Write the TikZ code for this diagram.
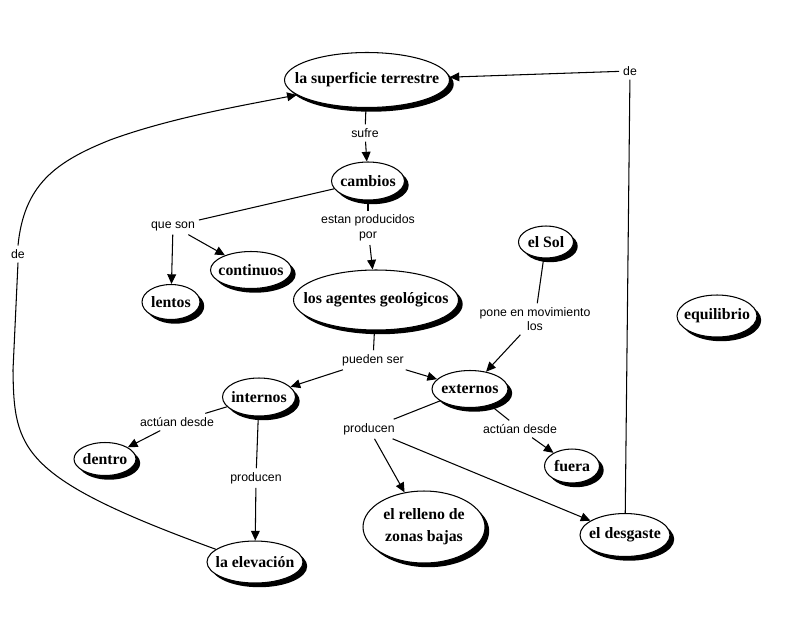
\documentclass[tikz,border=0pt]{standalone}
\usepackage{fontspec}
\setmainfont{Liberation Serif}
\setsansfont{Liberation Sans}
\usetikzlibrary{shapes.geometric, shadows, arrows.meta}

\begin{document}
\begin{tikzpicture}[x=0.02cm, y=-0.02cm, line width=0.6pt,
  concept/.style={ellipse, draw, fill=white, inner xsep=-10pt, inner ysep=-4pt, align=center,
    font=\fontsize{9}{12.5}\selectfont\bfseries,
    general shadow={fill=black, shadow xshift=2.4pt, shadow yshift=-2.4pt}},
  link/.style={font=\sffamily\fontsize{7}{8.2}\selectfont, align=center, inner sep=2pt},
  >={Triangle[length=5.5pt, width=5pt]}]
  \useasboundingbox (0,0) rectangle (800,626);

  \node[concept, minimum width=3.3cm, minimum height=1.1cm] (sup) at (367,80) {la superficie terrestre};
  \node[concept, minimum width=1.46cm, minimum height=0.76cm] (cambios) at (368,181) {cambios};
  \node[concept, minimum width=1.62cm, minimum height=0.74cm] (continuos) at (251,270) {continuos};
  \node[concept, minimum width=1.16cm, minimum height=0.7cm] (lentos) at (171,302) {lentos};
  \node[concept, minimum width=3.3cm, minimum height=1.2cm] (agentes) at (376,300) {los agentes geológicos};
  \node[concept, minimum width=1.1cm, minimum height=0.64cm] (sol) at (546,242) {el Sol};
  \node[concept, minimum width=1.6cm, minimum height=0.84cm] (equilibrio) at (717,316) {equilibrio};
  \node[concept, minimum width=1.46cm, minimum height=0.76cm] (internos) at (259,397) {internos};
  \node[concept, minimum width=1.52cm, minimum height=0.74cm] (externos) at (470,389) {externos};
  \node[concept, minimum width=1.24cm, minimum height=0.66cm] (dentro) at (105,459) {dentro};
  \node[concept, minimum width=1.1cm, minimum height=0.68cm] (fuera) at (572,466) {fuera};
  \node[concept, minimum width=1.92cm, minimum height=0.84cm] (elev) at (255,562) {la elevación};
  \node[concept, minimum width=2.44cm, minimum height=1.44cm] (relleno) at (424,527) {el relleno de\\zonas bajas};
  \node[concept, minimum width=1.8cm, minimum height=0.86cm] (desgaste) at (625,535) {el desgaste};

  \node[link] (sufre) at (365,133) {sufre};
  \node[link] (de1) at (630,71) {de};
  \node[link] (queson) at (173,226) {que son};
  \node[link] (estan) at (368,228) {estan producidos\\por};
  \node[link] (pueden) at (373,360) {pueden ser};
  \node[link] (pone) at (535,319) {pone en movimiento\\los};
  \node[link] (actint) at (177,422) {actúan desde};
  \node[link] (prodint) at (256,478) {producen};
  \node[link] (prodext) at (369,429) {producen};
  \node[link] (actext) at (520,429) {actúan desde};
  \node[link] (de2) at (18,254) {de};

  \draw (sup) -- (sufre);
  \draw[->] (sufre) -- (cambios);
  \draw (cambios) -- (queson);
  \draw[->] (queson) -- (lentos);
  \draw[->] (queson) -- (continuos);
  \draw (cambios) -- (estan);
  \draw[->] (estan) -- (agentes);
  \draw (agentes) -- (pueden);
  \draw[->] (pueden) -- (internos);
  \draw[->] (pueden) -- (externos);
  \draw (sol) -- (pone);
  \draw[->] (pone) -- (externos);
  \draw (internos) -- (actint);
  \draw[->] (actint) -- (dentro);
  \draw (internos) -- (prodint);
  \draw[->] (prodint) -- (elev);
  \draw (externos) -- (prodext);
  \draw[->] (prodext) -- (relleno);
  \draw[->] (prodext) -- (desgaste);
  \draw (externos) -- (actext);
  \draw[->] (actext) -- (fuera);
  \draw (desgaste) -- (de1);
  \draw[->] (de1) -- (sup);
  \draw (elev.162) .. controls (20,478) and (14,450) .. (13,370) -- (de2.south);
  \draw[->] (de2.north) .. controls (24,185) and (55,162) .. (110,140)
    .. controls (170,118) and (240,106) .. (sup.192);
\end{tikzpicture}
\end{document}
